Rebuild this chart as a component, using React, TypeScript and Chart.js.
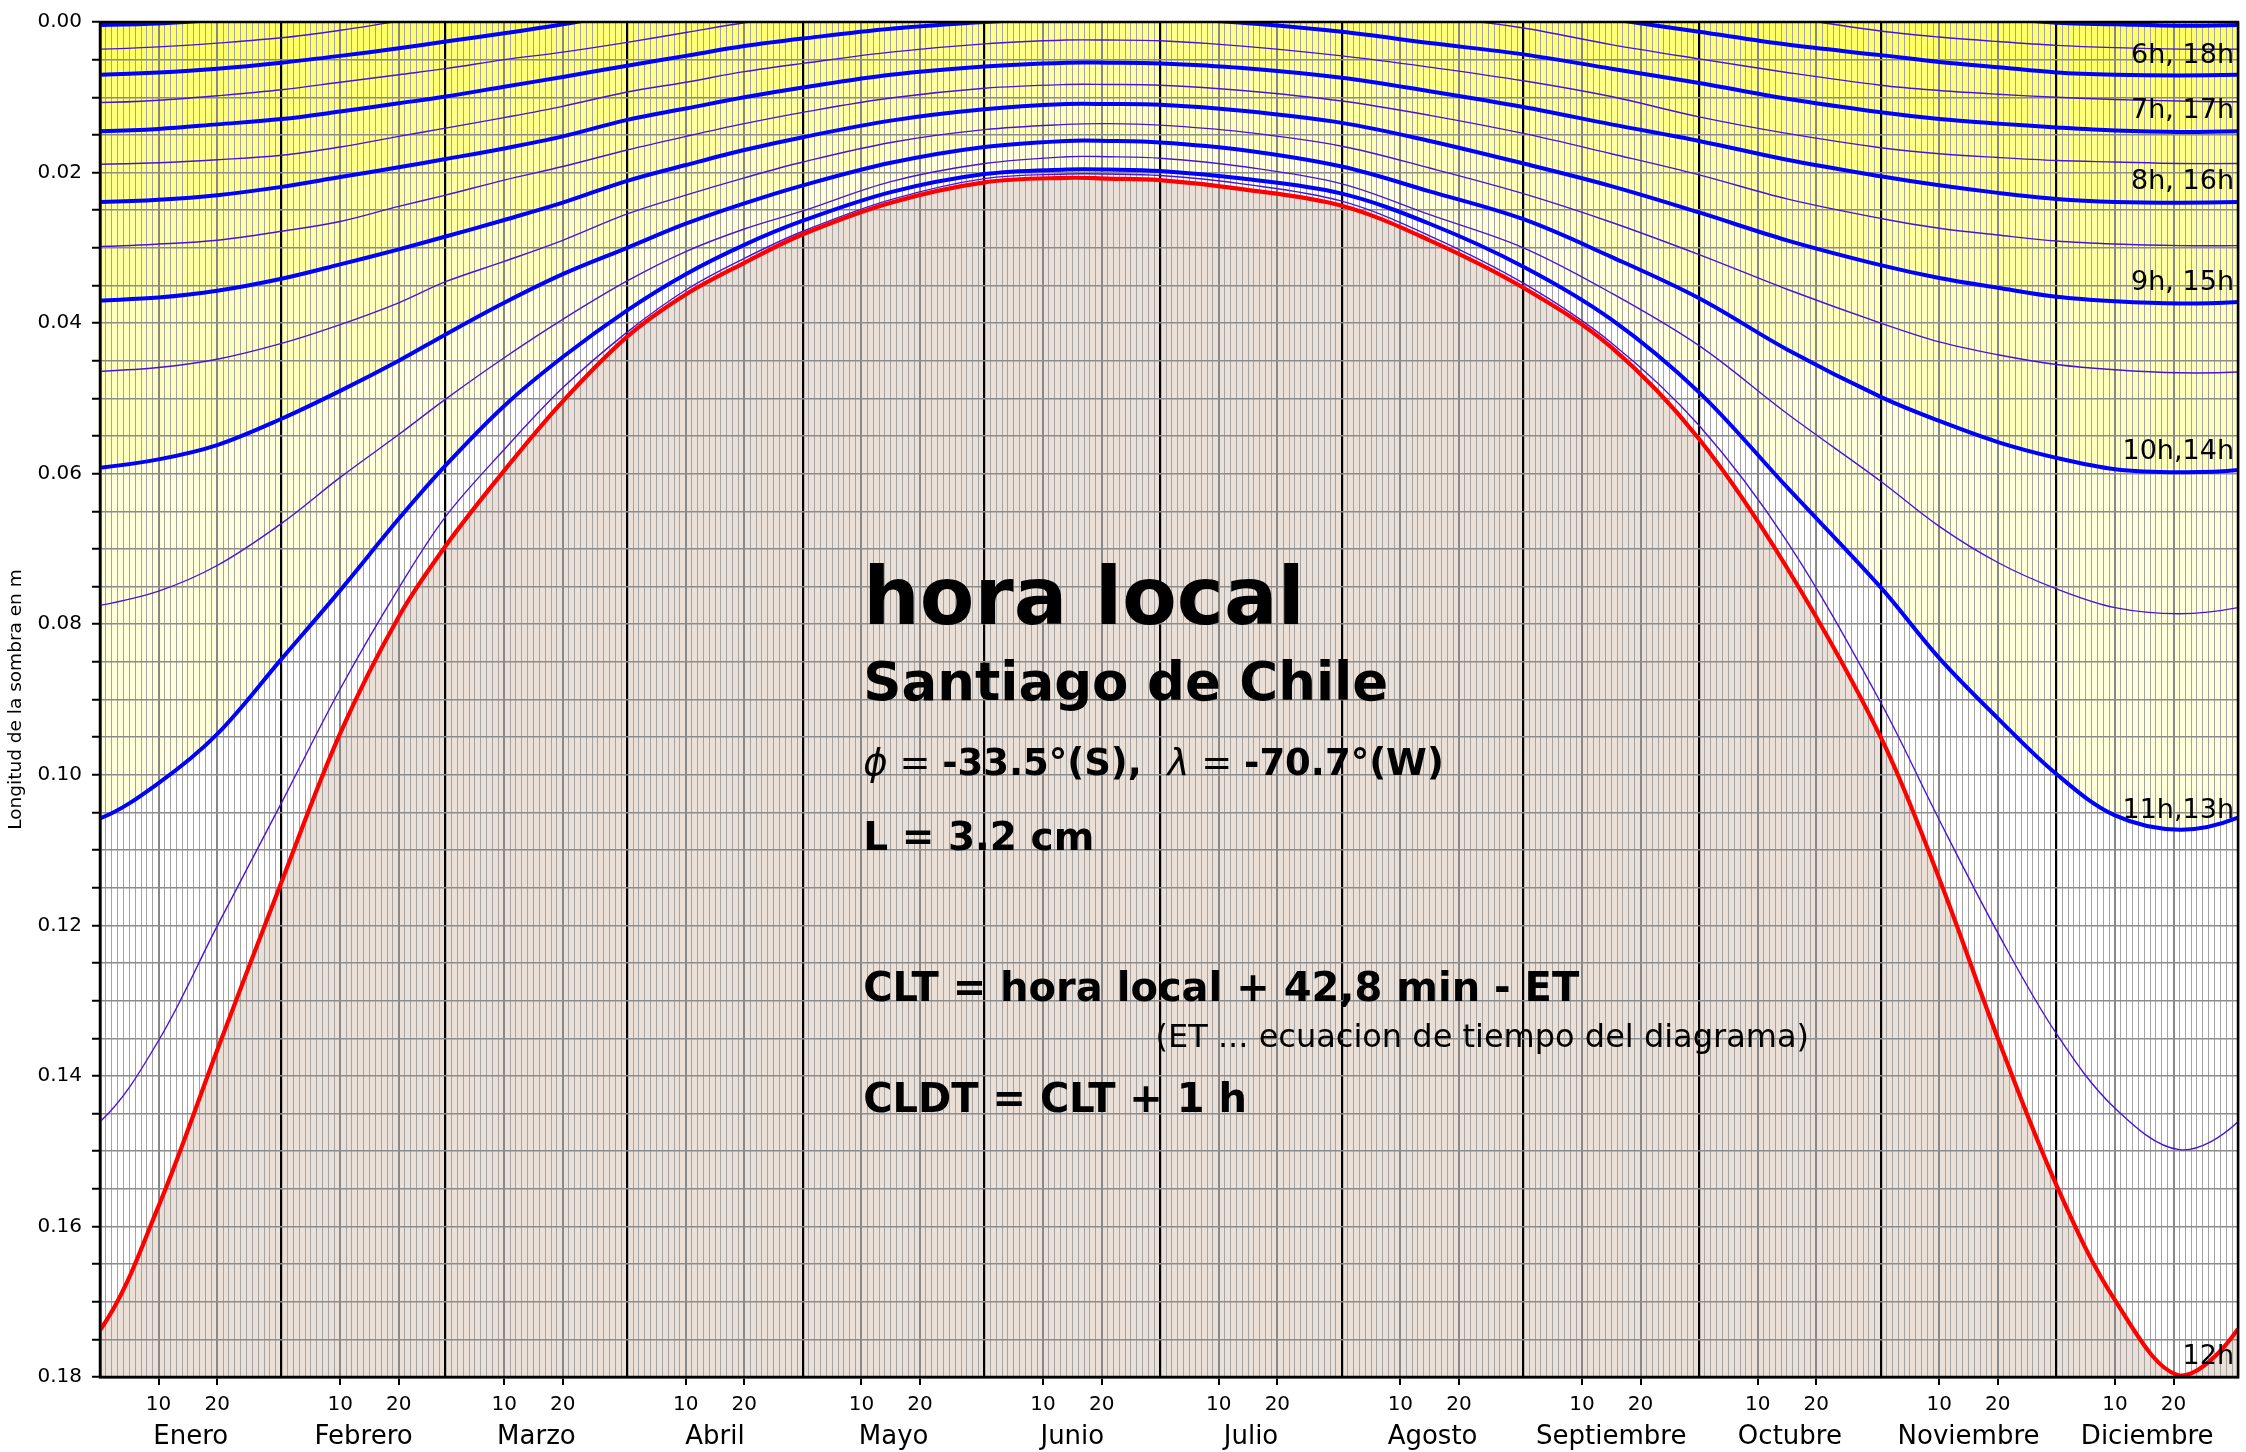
import React, { useEffect, useRef } from 'react';
import { Chart, registerables } from 'chart.js';

Chart.register(...registerables);

// ---------- data (day of year, shadow length in m); first/last entries continue the yearly cycle ----------
const DAYS = [-10, 0, 10, 20, 31, 41, 51, 59, 69, 79, 90, 100, 110, 120, 135, 151, 165, 172, 181, 195, 212, 227, 243, 258, 273, 288, 304, 314, 324, 334, 344, 355, 365, 375];

const H12 = [0.1798, 0.1738, 0.1573, 0.1366, 0.1142, 0.0945, 0.0790, 0.0696, 0.0596, 0.0504, 0.0418, 0.0362, 0.0320, 0.0282, 0.0240, 0.0213, 0.0207, 0.0208, 0.0210, 0.0222, 0.0244, 0.0290, 0.0353, 0.0432, 0.0554, 0.0725, 0.0950, 0.1138, 0.1350, 0.1545, 0.1698, 0.1798, 0.1736, 0.1573];
const H1130 = [0.1498, 0.1461, 0.1353, 0.1201, 0.1037, 0.0886, 0.0752, 0.0657, 0.0568, 0.0486, 0.0412, 0.0356, 0.0314, 0.0278, 0.0236, 0.0208, 0.0202, 0.0202, 0.0204, 0.0215, 0.0238, 0.0284, 0.0347, 0.0426, 0.0536, 0.0690, 0.0904, 0.1060, 0.1210, 0.1344, 0.1443, 0.1498, 0.1461, 0.1353];
const H11 = [0.1073, 0.1058, 0.1011, 0.0946, 0.0846, 0.0755, 0.0660, 0.0589, 0.0510, 0.0445, 0.0383, 0.0335, 0.0296, 0.0264, 0.0226, 0.0202, 0.0196, 0.0196, 0.0198, 0.0208, 0.0228, 0.0268, 0.0325, 0.0395, 0.0492, 0.0618, 0.0751, 0.0845, 0.0925, 0.0999, 0.1054, 0.1073, 0.1057, 0.1011];
const H1030 = [0.0786, 0.0775, 0.0756, 0.0722, 0.0666, 0.0605, 0.0548, 0.0501, 0.0446, 0.0395, 0.0344, 0.0305, 0.0275, 0.0251, 0.0212, 0.0188, 0.0179, 0.0179, 0.0181, 0.0192, 0.0215, 0.0256, 0.0300, 0.0360, 0.0430, 0.0520, 0.0610, 0.0670, 0.0718, 0.0753, 0.0778, 0.0786, 0.0778, 0.0756];
const H10 = [0.0598, 0.0592, 0.0581, 0.0562, 0.0527, 0.0490, 0.0450, 0.0415, 0.0373, 0.0335, 0.0300, 0.0268, 0.0241, 0.0217, 0.0187, 0.0166, 0.0158, 0.0158, 0.0160, 0.0170, 0.0192, 0.0225, 0.0262, 0.0312, 0.0367, 0.0435, 0.0498, 0.0530, 0.0558, 0.0579, 0.0594, 0.0598, 0.0595, 0.0581];
const H930 = [0.0466, 0.0464, 0.0459, 0.0448, 0.0427, 0.0402, 0.0373, 0.0345, 0.0318, 0.0290, 0.0255, 0.0230, 0.0207, 0.0186, 0.0160, 0.0143, 0.0136, 0.0135, 0.0137, 0.0146, 0.0165, 0.0194, 0.0228, 0.0266, 0.0309, 0.0355, 0.0400, 0.0425, 0.0442, 0.0455, 0.0462, 0.0466, 0.0465, 0.0459];
const H9 = [0.0374, 0.0370, 0.0366, 0.0357, 0.0341, 0.0322, 0.0302, 0.0285, 0.0263, 0.0240, 0.0211, 0.0190, 0.0170, 0.0153, 0.0131, 0.0116, 0.0109, 0.0109, 0.0110, 0.0118, 0.0134, 0.0158, 0.0188, 0.0218, 0.0253, 0.0290, 0.0323, 0.0340, 0.0353, 0.0365, 0.0371, 0.0374, 0.0372, 0.0366];
const H830 = [0.0297, 0.0298, 0.0295, 0.0290, 0.0278, 0.0265, 0.0245, 0.0230, 0.0210, 0.0192, 0.0170, 0.0152, 0.0135, 0.0120, 0.0101, 0.0088, 0.0083, 0.0083, 0.0084, 0.0091, 0.0105, 0.0124, 0.0148, 0.0175, 0.0203, 0.0235, 0.0261, 0.0274, 0.0283, 0.0291, 0.0295, 0.0297, 0.0297, 0.0295];
const H8 = [0.0240, 0.0239, 0.0236, 0.0230, 0.0219, 0.0206, 0.0193, 0.0182, 0.0168, 0.0152, 0.0130, 0.0115, 0.0100, 0.0087, 0.0070, 0.0059, 0.0054, 0.0054, 0.0055, 0.0061, 0.0074, 0.0092, 0.0113, 0.0136, 0.0158, 0.0183, 0.0205, 0.0217, 0.0227, 0.0235, 0.0239, 0.0240, 0.0239, 0.0236];
const H730 = [0.0188, 0.0189, 0.0187, 0.0183, 0.0177, 0.0166, 0.0152, 0.0141, 0.0127, 0.0112, 0.0093, 0.0080, 0.0066, 0.0055, 0.0040, 0.0029, 0.0024, 0.0024, 0.0025, 0.0032, 0.0045, 0.0060, 0.0078, 0.0099, 0.0126, 0.0148, 0.0167, 0.0175, 0.0180, 0.0184, 0.0186, 0.0188, 0.0188, 0.0187];
const H7 = [0.0146, 0.0145, 0.0142, 0.0136, 0.0129, 0.0119, 0.0108, 0.0099, 0.0086, 0.0073, 0.0058, 0.0045, 0.0032, 0.0022, 0.0009, 0.0000, -0.0005, -0.0006, -0.0005, 0.0001, 0.0013, 0.0028, 0.0043, 0.0062, 0.0081, 0.0102, 0.0120, 0.0129, 0.0135, 0.0140, 0.0144, 0.0146, 0.0145, 0.0142];
const H630 = [0.0105, 0.0107, 0.0104, 0.0098, 0.0090, 0.0080, 0.0070, 0.0062, 0.0050, 0.0040, 0.0027, 0.0014, 0.0001, -0.0009, -0.0022, -0.0032, -0.0036, -0.0036, -0.0035, -0.0028, -0.0018, -0.0008, 0.0008, 0.0030, 0.0049, 0.0067, 0.0084, 0.0091, 0.0096, 0.0100, 0.0103, 0.0105, 0.0106, 0.0104];
const H6 = [0.0071, 0.0070, 0.0067, 0.0062, 0.0054, 0.0045, 0.0035, 0.0026, 0.0015, 0.0003, -0.0012, -0.0025, -0.0038, -0.0048, -0.0060, -0.0068, -0.0071, -0.0071, -0.0070, -0.0064, -0.0052, -0.0038, -0.0022, -0.0004, 0.0013, 0.0030, 0.0044, 0.0053, 0.0060, 0.0067, 0.0070, 0.0071, 0.0070, 0.0067];
const H530 = [0.0036, 0.0036, 0.0033, 0.0028, 0.0021, 0.0011, -0.0001, -0.0010, -0.0022, -0.0034, -0.0048, -0.0060, -0.0070, -0.0080, -0.0092, -0.0100, -0.0104, -0.0104, -0.0103, -0.0097, -0.0086, -0.0072, -0.0056, -0.0040, -0.0022, -0.0006, 0.0012, 0.0020, 0.0026, 0.0031, 0.0034, 0.0036, 0.0036, 0.0033];
const H5 = [0.0005, 0.0004, 0.0002, -0.0003, -0.0011, -0.0020, -0.0030, -0.0040, -0.0052, -0.0065, -0.0080, -0.0092, -0.0104, -0.0114, -0.0126, -0.0134, -0.0137, -0.0137, -0.0136, -0.0130, -0.0119, -0.0106, -0.0090, -0.0074, -0.0057, -0.0040, -0.0022, -0.0012, -0.0006, 0.0001, 0.0003, 0.0005, 0.0004, 0.0002];

const THICK_SERIES = [H11, H10, H9, H8, H7, H6, H5];
const THIN_SERIES = [H1130, H1030, H930, H830, H730, H630, H530];

const MONTHS = ['Enero', 'Febrero', 'Marzo', 'Abril', 'Mayo', 'Junio', 'Julio', 'Agosto', 'Septiembre', 'Octubre', 'Noviembre', 'Diciembre'];
const MONTH_START = [0, 31, 59, 90, 120, 151, 181, 212, 243, 273, 304, 334, 365];
const DAY_TICKS = [10, 20];
const Y_MAX = 0.18;
const Y_STEP = 0.005;

const HOUR_LABELS = ['6h, 18h', '7h, 17h', '8h, 16h', '9h, 15h', '10h,14h', '11h,13h', '12h'];
const HOUR_LABEL_Y = [0.0054, 0.0128, 0.0222, 0.0356, 0.0581, 0.1057, 0.1783];

const Y_TITLE = 'Longitud de la sombra en m';

const FONT = '"DejaVu Sans", "Liberation Sans", sans-serif';

function monthOf(v: number) {
  let m = 0;
  for (let i = 0; i < 12; i++) if (MONTH_START[i] <= v) m = i;
  return m;
}
function isMonthStart(v: number) {
  return MONTH_START.includes(v);
}
function isLabelDay(v: number) {
  if (v >= 365) return false;
  return DAY_TICKS.includes(v - MONTH_START[monthOf(v)]);
}

const pts = (vals: number[]) => DAYS.map((d, i) => ({ x: d, y: vals[i] }));

const overlayPlugin = {
  id: 'overlay',
  afterDatasetsDraw(chart: any) {
    const { ctx, chartArea: ca } = chart;
    ctx.save();
    ctx.strokeStyle = '#000';
    ctx.lineWidth = 2.5;
    ctx.strokeRect(ca.left, ca.top, ca.right - ca.left, ca.bottom - ca.top);
    ctx.restore();
  },
  afterDraw(chart: any) {
    const { ctx, chartArea: ca, scales } = chart;
    const xs = scales.x;
    const ys = scales.y;
    ctx.save();
    ctx.fillStyle = '#000';
    ctx.textBaseline = 'alphabetic';

    const seg = (parts: [string, string][], x: number, y: number) => {
      let cx = x;
      for (const [font, text] of parts) {
        ctx.font = font;
        ctx.fillText(text, cx, y);
        cx += ctx.measureText(text).width;
      }
    };

    const tx = xs.getPixelForValue(130.3);
    ctx.textAlign = 'left';
    seg([[`bold 79.5px ${FONT}`, 'hora local']], tx, ys.getPixelForValue(0.080));
    seg([[`bold 53px ${FONT}`, 'Santiago de Chile']], tx, ys.getPixelForValue(0.090));
    seg([
      [`italic 37px ${FONT}`, 'ϕ'],
      [`37px ${FONT}`, ' = '],
      [`bold 37px ${FONT}`, '-33.5°(S),  '],
      [`italic 37px ${FONT}`, 'λ'],
      [`37px ${FONT}`, ' = '],
      [`bold 37px ${FONT}`, '-70.7°(W)'],
    ], tx, ys.getPixelForValue(0.100));
    seg([[`bold 39px ${FONT}`, 'L = 3.2 cm']], tx, ys.getPixelForValue(0.110));
    seg([[`bold 40px ${FONT}`, 'CLT = hora local + 42,8 min - ET']], tx, ys.getPixelForValue(0.130));
    seg([[`32px ${FONT}`, '(ET ... ecuacion de tiempo del diagrama)']], xs.getPixelForValue(180.2), ys.getPixelForValue(0.1361));
    seg([[`bold 40px ${FONT}`, 'CLDT = CLT + 1 h']], tx, ys.getPixelForValue(0.1448));

    // hour labels on the right
    ctx.font = `27px ${FONT}`;
    ctx.textAlign = 'right';
    HOUR_LABELS.forEach((t, i) => {
      ctx.fillText(t, ca.right - 4, ys.getPixelForValue(HOUR_LABEL_Y[i]));
    });

    // y axis title
    ctx.font = `18.5px ${FONT}`;
    ctx.textAlign = 'center';
    ctx.textBaseline = 'middle';
    ctx.translate(16, (ca.top + ca.bottom) / 2);
    ctx.rotate(-Math.PI / 2);
    ctx.fillText(Y_TITLE, 0, 0);
    ctx.restore();
  },
};

export default function App() {
  const ref = useRef<HTMLCanvasElement | null>(null);

  useEffect(() => {
    if (!ref.current) return;
    const yellowFill = 'rgba(255,255,0,0.14)';
    const datasets: any[] = [];
    datasets.push({
      label: '12h',
      data: pts(H12),
      borderColor: '#ff0000',
      borderWidth: 4.2,
      fill: { value: Y_MAX },
      backgroundColor: 'rgb(235,224,215)',
    });
    THICK_SERIES.forEach((s, i) => {
      datasets.push({
        label: 'thick' + i,
        data: pts(s),
        borderColor: '#0000ff',
        borderWidth: 4,
        fill: { value: 0 },
        backgroundColor: yellowFill,
      });
    });
    THIN_SERIES.forEach((s, i) => {
      datasets.push({
        label: 'thin' + i,
        data: pts(s),
        borderColor: '#4a14d8',
        borderWidth: 1.4,
        fill: false,
      });
    });
    datasets.forEach((d) => {
      d.pointRadius = 0;
      d.tension = 0.35;
      d.clip = 0;
    });

    const chart = new Chart(ref.current, {
      type: 'line',
      data: { datasets },
      plugins: [overlayPlugin],
      options: {
        animation: false,
        responsive: false,
        devicePixelRatio: 1,
        events: [],
        layout: { padding: { left: 0, top: 16, right: 7, bottom: 0 }, autoPadding: false },
        plugins: {
          legend: { display: false },
          tooltip: { enabled: false },
          filler: { drawTime: 'beforeDraw' },
        },
        scales: {
          x: {
            type: 'linear',
            min: 0,
            max: 365,
            position: 'bottom',
            weight: 0,
            afterBuildTicks: (s: any) => {
              const t: any[] = [];
              for (let d = 0; d <= 365; d++) t.push({ value: d });
              s.ticks = t;
            },
            afterFit: (s: any) => { s.height = 40; },
            ticks: {
              autoSkip: false,
              maxRotation: 0,
              padding: 8,
              color: '#000',
              font: { family: 'DejaVu Sans', size: 20 },
              callback: (v: any) => (isLabelDay(v) ? String(v - MONTH_START[monthOf(v)]) : ''),
            },
            grid: {
              color: (c: any) => {
                const v = c.tick ? c.tick.value : 0;
                if (isMonthStart(v)) return '#000';
                if (isLabelDay(v)) return '#888';
                return '#a3a3a3';
              },
              lineWidth: (c: any) => {
                const v = c.tick ? c.tick.value : 0;
                if (isMonthStart(v)) return 2.2;
                if (isLabelDay(v)) return 2;
                return 1;
              },
              tickColor: (c: any) => {
                const v = c.tick ? c.tick.value : 0;
                return isLabelDay(v) ? '#000' : 'rgba(0,0,0,0)';
              },
              tickWidth: 2,
              tickLength: 8,
            },
            border: { color: '#000', width: 2.5 },
          },
          xm: {
            type: 'linear',
            min: 0,
            max: 365,
            position: 'bottom',
            weight: 1,
            afterBuildTicks: (s: any) => {
              s.ticks = MONTHS.map((_, i) => ({ value: (MONTH_START[i] + MONTH_START[i + 1]) / 2 }));
            },
            afterFit: (s: any) => { s.height = 35; },
            ticks: {
              autoSkip: false,
              maxRotation: 0,
              padding: 5,
              color: '#000',
              font: { family: 'DejaVu Sans', size: 26 },
              callback: (v: any) => {
                const i = MONTH_START.findIndex((m, k) => k < 12 && (m + MONTH_START[k + 1]) / 2 === v);
                return i >= 0 ? MONTHS[i] : '';
              },
            },
            grid: { display: false, drawTicks: false },
            border: { display: false },
          },
          y: {
            type: 'linear',
            reverse: true,
            min: 0,
            max: Y_MAX,
            afterBuildTicks: (s: any) => {
              const t: any[] = [];
              const n = Math.round(Y_MAX / Y_STEP);
              for (let i = 0; i <= n; i++) t.push({ value: +(i * Y_STEP).toFixed(3) });
              s.ticks = t;
            },
            afterFit: (s: any) => { s.width = 100; },
            ticks: {
              autoSkip: false,
              padding: 10,
              color: '#000',
              font: { family: 'DejaVu Sans', size: 20 },
              callback: (v: any) => (Math.round(v * 1000) % 20 === 0 ? Number(v).toFixed(2) : ''),
            },
            grid: {
              color: '#8c8c8c',
              lineWidth: 1.5,
              tickColor: '#000',
              tickWidth: 2,
              tickLength: 8,
            },
            border: { color: '#000', width: 2.5 },
          },
        },
      } as any,
    });
    return () => chart.destroy();
  }, []);

  return (
    <div style={{ position: 'absolute', left: 0, top: 0, width: 2246, height: 1452, background: '#fff' }}>
      <canvas ref={ref} width={2246} height={1452} style={{ display: 'block' }} />
    </div>
  );
}
